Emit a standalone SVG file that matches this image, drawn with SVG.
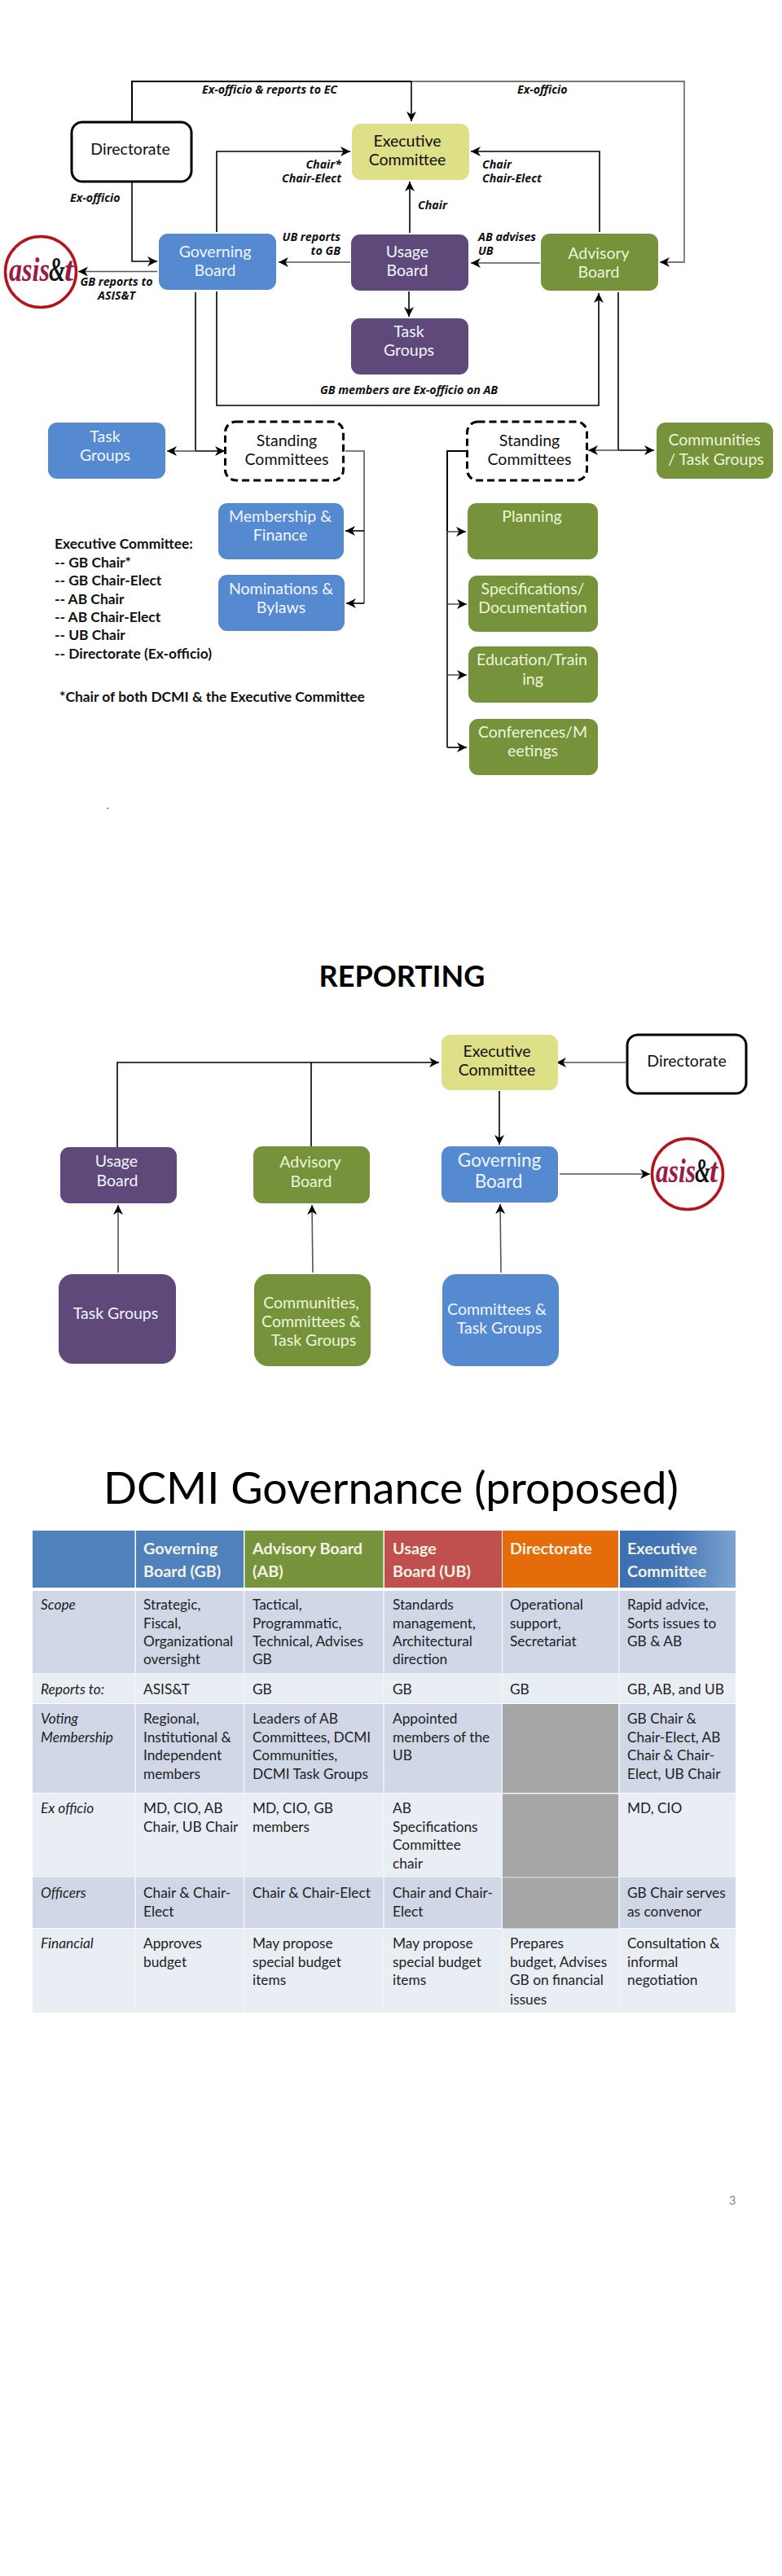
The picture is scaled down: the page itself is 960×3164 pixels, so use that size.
<svg xmlns="http://www.w3.org/2000/svg" width="960" height="3164" viewBox="0 0 960 3164">
<style>
text{font-family:"Lato","Carlito","Liberation Sans",sans-serif}
.n{font-size:19.5px;text-anchor:middle;fill:#f0f6ff}
.k{font-size:19.5px;text-anchor:middle;fill:#111}
.g{fill:#eef5d8}
.lb{font-family:"Open Sans","Liberation Sans",sans-serif;font-size:14.2px;font-weight:700;font-style:italic;fill:#111}
.end{text-anchor:end}.mid{text-anchor:middle}
.ec{font-size:17.4px;font-weight:700;fill:#111}
.t{font-size:17.3px;fill:#222}
.ti{font-size:17.3px;font-style:italic;fill:#222}
.th{font-size:19.8px;font-weight:700;fill:#f4f4e4}
.c{stroke:#000;stroke-width:1.6;fill:none}
.c2{stroke:#555;stroke-width:1.6;fill:none}
.c3{stroke:#777;stroke-width:1.8;fill:none}
.a{marker-end:url(#ar)}
.blue{fill:#558ad0}.pur{fill:#5f497a}.grn{fill:#76933c}.yel{fill:#dee087}
.logo{font-family:"Liberation Serif",serif;font-weight:700;font-style:italic;font-size:42px;fill:#9b1b47}
.amp{fill:#111}
.ring{fill:#fff;stroke:#b5141e;stroke-width:3.5}
.r1{fill:#d0d8e8}.r2{fill:#e9edf4}.hd{fill:#4f81bd}
</style>
<defs>
<marker id="ar" markerUnits="userSpaceOnUse" markerWidth="14" markerHeight="14" refX="12" refY="6.500" orient="auto" overflow="visible"><path d="M0,0.500 L12,6.500 L0,12.500 L3.500,6.500Z" fill="#000"/></marker>
<linearGradient id="exg" x1="0" x2="1" y1="0" y2="0"><stop offset="0" stop-color="#3b70b3"/><stop offset=".45" stop-color="#4374b4"/><stop offset="1" stop-color="#7ca3d2"/></linearGradient>
</defs>
<rect width="960" height="3164" fill="#fff"/>

<g id="connectors">
<path class="c" d="M162,150V100H505" style="stroke-width:2"/>
<path class="c3 a" d="M505,100H840V322H810"/>
<path class="c a" d="M505,100V149"/>
<path class="c a" d="M266,285V186H430"/>
<path class="c a" d="M736,285V186H578"/>
<path class="c a" d="M503,286V223"/>
<path class="c2 a" d="M430,322H342"/>
<path class="c2 a" d="M663,323H578"/>
<path class="c a" d="M502,358V389"/>
<path class="c a" d="M162,223V321H193"/>
<path class="c2 a" d="M193,333.500H96"/>
<path class="c a" d="M266,358V498H735V360"/>
<path class="c" d="M240,359V554"/>
<path class="c3 a" d="M240,554H205"/>
<path class="c a" d="M240,554H276"/>
<path class="c2" d="M424,554H447V741"/>
<path class="c a" d="M447,652H424"/>
<path class="c a" d="M447,741H425"/>
<path class="c" d="M573,554H549V653" style="stroke-width:2"/>
<path class="c" d="M549,653V918"/>
<path class="c2 a" d="M549,653H572"/>
<path class="c2 a" d="M549,742H573"/>
<path class="c2 a" d="M549,829H573"/>
<path class="c a" d="M549,918H573"/>
<path class="c" d="M759,359V553"/>
<path class="c3 a" d="M759,553H722"/>
<path class="c a" d="M759,553H803"/>

<path class="c a" d="M144,1409V1305H539"/>
<path class="c" d="M382,1305V1408"/>
<path class="c2 a" d="M145,1563V1480"/>
<path class="c2 a" d="M384,1563L383,1480"/>
<path class="c2 a" d="M768,1305H683"/>
<path class="c a" d="M613,1340V1406"/>
<path class="c2 a" d="M615,1563L614,1479"/>
<path class="c2 a" d="M687,1442H798"/>
</g>

<g id="directorate"><rect x="88" y="150" width="147" height="73" rx="13" fill="#fff" stroke="#000" stroke-width="3"/><text class="k" x="160" y="190">Directorate</text></g>
<g id="executive-committee"><rect class="yel" x="432" y="152" width="144" height="69" rx="11"/><text class="k" x="500" y="180">Executive</text><text class="k" x="500" y="203">Committee</text></g>
<g id="governing-board"><rect class="blue" x="195" y="287" width="144" height="69" rx="11"/><text class="n" x="264" y="316">Governing</text><text class="n" x="264" y="339">Board</text></g>
<g id="usage-board"><rect class="pur" x="431" y="288" width="144" height="69" rx="11"/><text class="n" x="500" y="316">Usage</text><text class="n" x="500" y="339">Board</text></g>
<g id="usage-task-groups"><rect class="pur" x="431" y="391" width="144" height="69" rx="11"/><text class="n" x="502" y="414">Task</text><text class="n" x="502" y="437">Groups</text></g>
<g id="advisory-board"><rect class="grn" x="664" y="287" width="144" height="70" rx="11"/><text class="n g" x="735" y="318">Advisory</text><text class="n g" x="735" y="341">Board</text></g>
<g id="asist-1"><circle class="ring" cx="50" cy="334" r="43.500"/><text class="logo" x="11" y="345" textLength="50" lengthAdjust="spacingAndGlyphs">asis</text><text class="logo amp" x="60" y="345" textLength="20" lengthAdjust="spacingAndGlyphs">&amp;</text><text class="logo" x="79" y="345" textLength="11" lengthAdjust="spacingAndGlyphs">t</text></g>
<g id="gb-task-groups"><rect class="blue" x="59" y="519" width="144" height="69" rx="11"/><text class="n" x="129" y="543">Task</text><text class="n" x="129" y="566">Groups</text></g>
<g id="standing-gb"><rect x="276.500" y="518" width="145" height="72" rx="13" fill="#fff" stroke="#000" stroke-width="3" stroke-dasharray="9 5"/><text class="k" x="352" y="548">Standing</text><text class="k" x="352" y="571">Committees</text></g>
<g id="standing-ab"><rect x="573.500" y="518" width="147" height="72" rx="13" fill="#fff" stroke="#000" stroke-width="3" stroke-dasharray="9 5"/><text class="k" x="650" y="548">Standing</text><text class="k" x="650" y="571">Committees</text></g>
<g id="communities"><rect class="grn" x="806" y="519" width="143" height="69" rx="11"/><text class="n g" x="877" y="547">Communities</text><text class="n g" x="879" y="571">/ Task Groups</text></g>
<g id="membership"><rect class="blue" x="268" y="618" width="154" height="69" rx="11"/><text class="n" x="344" y="641">Membership &amp;</text><text class="n" x="344" y="664">Finance</text></g>
<g id="nominations"><rect class="blue" x="268" y="706" width="155" height="69" rx="11"/><text class="n" x="345" y="730">Nominations &amp;</text><text class="n" x="345" y="753">Bylaws</text></g>
<g id="planning"><rect class="grn" x="574" y="618" width="160" height="69" rx="11"/><text class="n g" x="653" y="641">Planning</text></g>
<g id="specifications"><rect class="grn" x="575" y="707" width="159" height="69" rx="11"/><text class="n g" x="654" y="730">Specifications/</text><text class="n g" x="654" y="753">Documentation</text></g>
<g id="education"><rect class="grn" x="575" y="794" width="159" height="69" rx="11"/><text class="n g" x="653" y="817">Education/Train</text><text class="n g" x="654" y="841">ing</text></g>
<g id="conferences"><rect class="grn" x="576" y="883" width="158" height="69" rx="11"/><text class="n g" x="654" y="906">Conferences/M</text><text class="n g" x="654" y="929">eetings</text></g>

<g id="edge-labels">
<text class="lb" x="248" y="115">Ex-officio &amp; reports to EC</text>
<text class="lb" x="635" y="115">Ex-officio</text>
<text class="lb end" x="419" y="207">Chair*</text>
<text class="lb end" x="419" y="224">Chair-Elect</text>
<text class="lb" x="592" y="207">Chair</text>
<text class="lb" x="592" y="224">Chair-Elect</text>
<text class="lb" x="513" y="257">Chair</text>
<text class="lb" x="86" y="248">Ex-officio</text>
<text class="lb end" x="418" y="296">UB reports</text>
<text class="lb end" x="418" y="313">to GB</text>
<text class="lb" x="587" y="296">AB advises</text>
<text class="lb" x="587" y="313">UB</text>
<text class="lb mid" x="143" y="351">GB reports to</text>
<text class="lb mid" x="143" y="368">ASIS&amp;T</text>
<text class="lb" x="393" y="484">GB members are Ex-officio on AB</text>
</g>

<g id="notes">
<text class="ec" x="67" y="674">Executive Committee:</text>
<text class="ec" x="67" y="697">-- GB Chair*</text>
<text class="ec" x="67" y="719">-- GB Chair-Elect</text>
<text class="ec" x="67" y="742">-- AB Chair</text>
<text class="ec" x="67" y="764">-- AB Chair-Elect</text>
<text class="ec" x="67" y="786">-- UB Chair</text>
<text class="ec" x="67" y="809">-- Directorate (Ex-officio)</text>
<text class="ec" x="73" y="862">*Chair of both DCMI &amp; the Executive Committee</text>
<rect x="131.500" y="992" width="1.500" height="1.500" fill="#333"/>
</g>

<text id="reporting-title" x="493.500" y="1212" font-size="36" font-weight="700" text-anchor="middle" fill="#000">REPORTING</text>

<g id="r-usage"><rect class="pur" x="74" y="1409" width="143" height="69" rx="11"/><text class="n" x="143" y="1433">Usage</text><text class="n" x="144" y="1457">Board</text></g>
<g id="r-advisory"><rect class="grn" x="311" y="1408" width="143" height="70" rx="11"/><text class="n g" x="381" y="1434">Advisory</text><text class="n g" x="382" y="1458">Board</text></g>
<g id="r-task"><rect class="pur" x="72" y="1565" width="144" height="110" rx="17"/><text class="n" x="142" y="1620">Task Groups</text></g>
<g id="r-communities"><rect class="grn" x="312" y="1565" width="143" height="113" rx="17"/><text class="n g" x="382" y="1607">Communities,</text><text class="n g" x="382" y="1630">Committees &amp;</text><text class="n g" x="385" y="1653">Task Groups</text></g>
<g id="r-committees"><rect class="blue" x="543" y="1565" width="143" height="113" rx="17"/><text class="n" x="610" y="1615">Committees &amp;</text><text class="n" x="613" y="1638">Task Groups</text></g>
<g id="r-gb"><rect class="blue" x="542" y="1408" width="143" height="69" rx="11"/><text class="n" x="613" y="1433" style="font-size:22.500px">Governing</text><text class="n" x="612" y="1459" style="font-size:22.500px">Board</text></g>
<g id="r-exec"><rect class="yel" x="542" y="1271" width="143" height="68" rx="11"/><text class="k" x="610" y="1298">Executive</text><text class="k" x="610" y="1321">Committee</text></g>
<g id="r-directorate"><rect x="770" y="1271" width="146" height="72" rx="13" fill="#fff" stroke="#000" stroke-width="3"/><text class="k" x="843" y="1310">Directorate</text></g>
<g id="asist-2"><circle class="ring" cx="844" cy="1442" r="43.500"/><text class="logo" x="805" y="1452" textLength="49" lengthAdjust="spacingAndGlyphs">asis</text><text class="logo amp" x="853" y="1452" textLength="19" lengthAdjust="spacingAndGlyphs">&amp;</text><text class="logo" x="871" y="1452" textLength="10" lengthAdjust="spacingAndGlyphs">t</text></g>

<text id="table-title" x="480" y="1847" font-size="54" text-anchor="middle" fill="#000">DCMI Governance (proposed)</text>

<g id="table">
<rect class="hd" x="40" y="1880" width="125.500" height="70"/>
<rect class="hd" x="167" y="1880" width="132" height="70"/>
<rect x="300.500" y="1880" width="170" height="70" fill="#77933c"/>
<rect x="472" y="1880" width="144" height="70" fill="#c0504d"/>
<rect x="617" y="1880" width="142" height="70" fill="#e46c0a"/>
<rect x="761" y="1880" width="142" height="70" fill="url(#exg)"/>
<path class="r1" d="M40,1954H903V2055H40Z"/>
<path class="r2" d="M40,2055H903V2092H40Z"/>
<path class="r1" d="M40,2093H903V2202H40Z"/>
<path class="r2" d="M40,2203H903V2306H40Z"/>
<path class="r1" d="M40,2306H903V2368H40Z"/>
<path class="r2" d="M40,2369H903V2472H40Z"/>
<path d="M166,1954V2472M299.500,1954V2472M471,1954V2472M616.500,1954V2472M760,1954V2472" stroke="#f2f4f8" stroke-width="1.500" fill="none"/>
<rect x="617" y="2093" width="142" height="109" fill="#a6a6a6"/>
<rect x="617" y="2203.500" width="142" height="102" fill="#a6a6a6"/>
<rect x="617" y="2306.500" width="142" height="62" fill="#a6a6a6"/>

<text class="th" x="176" y="1909">Governing</text><text class="th" x="176" y="1937">Board (GB)</text>
<text class="th" x="310" y="1909">Advisory Board</text><text class="th" x="310" y="1937">(AB)</text>
<text class="th" x="482" y="1909">Usage</text><text class="th" x="482" y="1937">Board (UB)</text>
<text class="th" x="626" y="1909">Directorate</text>
<text class="th" x="770" y="1909">Executive</text><text class="th" x="770" y="1937">Committee</text>

<text class="ti" x="50" y="1977">Scope</text>
<text class="t" x="176" y="1977">Strategic,</text><text class="t" x="176" y="1999.500">Fiscal,</text><text class="t" x="176" y="2021.500">Organizational</text><text class="t" x="176" y="2044">oversight</text>
<text class="t" x="310" y="1977">Tactical,</text><text class="t" x="310" y="1999.500">Programmatic,</text><text class="t" x="310" y="2021.500">Technical, Advises</text><text class="t" x="310" y="2044">GB</text>
<text class="t" x="482" y="1977">Standards</text><text class="t" x="482" y="1999.500">management,</text><text class="t" x="482" y="2021.500">Architectural</text><text class="t" x="482" y="2044">direction</text>
<text class="t" x="626" y="1977">Operational</text><text class="t" x="626" y="1999.500">support,</text><text class="t" x="626" y="2021.500">Secretariat</text>
<text class="t" x="770" y="1977">Rapid advice,</text><text class="t" x="770" y="1999.500">Sorts issues to</text><text class="t" x="770" y="2021.500">GB &amp; AB</text>

<text class="ti" x="50" y="2081">Reports to:</text>
<text class="t" x="176" y="2081">ASIS&amp;T</text><text class="t" x="310" y="2081">GB</text><text class="t" x="482" y="2081">GB</text><text class="t" x="626" y="2081">GB</text><text class="t" x="770" y="2081">GB, AB, and  UB</text>

<text class="ti" x="50" y="2117">Voting</text><text class="ti" x="50" y="2140">Membership</text>
<text class="t" x="176" y="2117">Regional,</text><text class="t" x="176" y="2140">Institutional &amp;</text><text class="t" x="176" y="2162">Independent</text><text class="t" x="176" y="2184.500">members</text>
<text class="t" x="310" y="2117">Leaders of AB</text><text class="t" x="310" y="2140">Committees, DCMI</text><text class="t" x="310" y="2162">Communities,</text><text class="t" x="310" y="2184.500">DCMI Task Groups</text>
<text class="t" x="482" y="2117">Appointed</text><text class="t" x="482" y="2140">members of the</text><text class="t" x="482" y="2162">UB</text>
<text class="t" x="770" y="2117">GB Chair &amp;</text><text class="t" x="770" y="2140">Chair-Elect, AB</text><text class="t" x="770" y="2162">Chair &amp; Chair-</text><text class="t" x="770" y="2184.500">Elect, UB Chair</text>

<text class="ti" x="50" y="2227">Ex officio</text>
<text class="t" x="176" y="2227">MD, CIO, AB</text><text class="t" x="176" y="2249.500">Chair, UB Chair</text>
<text class="t" x="310" y="2227">MD, CIO, GB</text><text class="t" x="310" y="2249.500">members</text>
<text class="t" x="482" y="2227">AB</text><text class="t" x="482" y="2249.500">Specifications</text><text class="t" x="482" y="2271.500">Committee</text><text class="t" x="482" y="2295">chair</text>
<text class="t" x="770" y="2227">MD, CIO</text>

<text class="ti" x="50" y="2331">Officers</text>
<text class="t" x="176" y="2331">Chair &amp; Chair-</text><text class="t" x="176" y="2353.500">Elect</text>
<text class="t" x="310" y="2331">Chair &amp; Chair-Elect</text>
<text class="t" x="482" y="2331">Chair and Chair-</text><text class="t" x="482" y="2353.500">Elect</text>
<text class="t" x="770" y="2331">GB Chair serves</text><text class="t" x="770" y="2353.500">as convenor</text>

<text class="ti" x="50" y="2393">Financial</text>
<text class="t" x="176" y="2393">Approves</text><text class="t" x="176" y="2416">budget</text>
<text class="t" x="310" y="2393">May propose</text><text class="t" x="310" y="2416">special budget</text><text class="t" x="310" y="2438">items</text>
<text class="t" x="482" y="2393">May propose</text><text class="t" x="482" y="2416">special budget</text><text class="t" x="482" y="2438">items</text>
<text class="t" x="626" y="2393">Prepares</text><text class="t" x="626" y="2416">budget, Advises</text><text class="t" x="626" y="2438">GB on financial</text><text class="t" x="626" y="2462">issues</text>
<text class="t" x="770" y="2393">Consultation &amp;</text><text class="t" x="770" y="2416">informal</text><text class="t" x="770" y="2438">negotiation</text>
</g>
<text id="page-number" x="899" y="2708" font-size="15" text-anchor="middle" fill="#8c8c8c">3</text>
</svg>
